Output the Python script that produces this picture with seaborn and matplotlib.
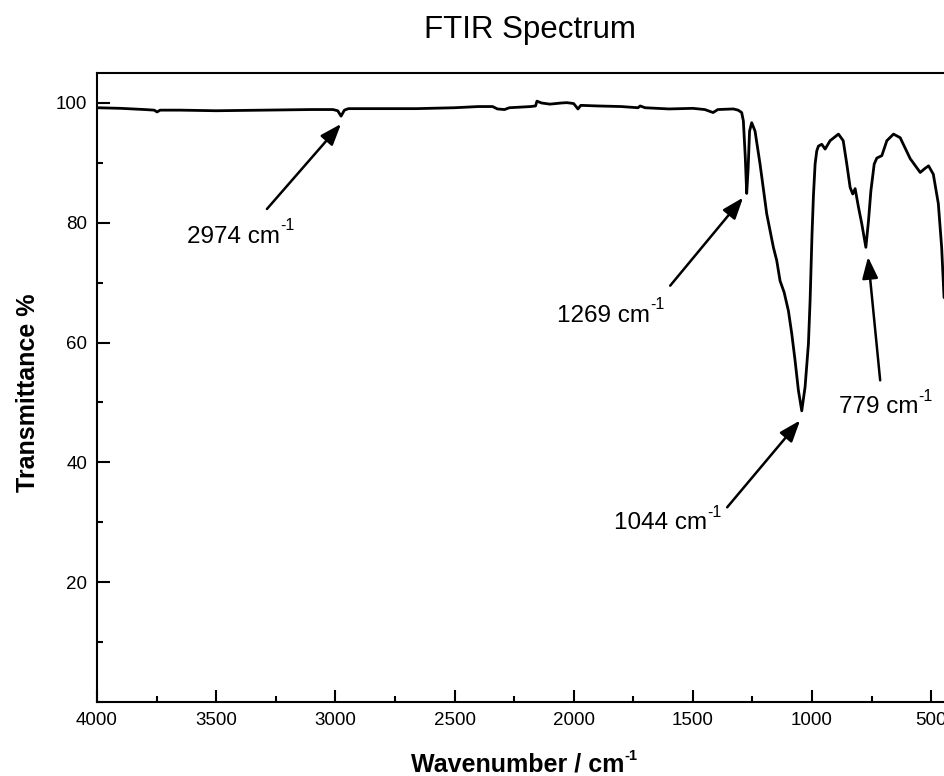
import matplotlib
matplotlib.use("Agg")
import matplotlib.pyplot as plt
from matplotlib.ticker import MultipleLocator
import seaborn as sns
import pandas as pd

# ---------------- data ----------------
wavenumber = [4000, 3900, 3800, 3760, 3748, 3735, 3650, 3500, 3300, 3100,
              3010, 2990, 2976, 2962, 2945, 2800, 2660, 2500, 2400, 2340,
              2320, 2290, 2270, 2180, 2160, 2154, 2135, 2100, 2050, 2028,
              2000, 1982, 1970, 1900, 1800, 1730, 1721, 1700, 1600, 1500,
              1450, 1415, 1395, 1330, 1310, 1295, 1288, 1280, 1274, 1268,
              1262, 1253, 1239, 1218, 1190, 1162, 1148, 1134, 1117, 1099,
              1085, 1071, 1057, 1043, 1029, 1015, 1008, 1000, 994, 987,
              980, 973, 959, 945, 924, 889, 869, 854, 840, 829,
              819, 805, 791, 774, 763, 753, 739, 728, 707, 686,
              658, 630, 588, 546, 525, 511, 491, 470, 456, 446]
transmittance = [99.2, 99.1, 98.9, 98.8, 98.5, 98.8, 98.8, 98.7, 98.8, 98.9,
                 98.9, 98.7, 97.8, 98.8, 99.05, 99.05, 99.05, 99.2, 99.4, 99.4,
                 99.0, 98.9, 99.2, 99.4, 99.5, 100.3, 100.0, 99.8, 100.0, 100.05,
                 99.9, 99.0, 99.6, 99.5, 99.4, 99.2, 99.5, 99.2, 99.0, 99.1,
                 98.9, 98.4, 98.9, 99.0, 98.8, 98.4, 97.0, 91.0, 84.9, 89.0,
                 95.3, 96.7, 95.3, 89.8, 81.5, 75.9, 73.7, 70.3, 68.4, 65.3,
                 61.5, 57.0, 52.0, 48.6, 52.6, 59.8, 67.0, 78.0, 84.5, 89.8,
                 92.0, 92.8, 93.1, 92.3, 93.7, 94.8, 93.7, 89.8, 85.9, 84.8,
                 85.7, 82.6, 79.8, 75.9, 80.3, 85.3, 89.8, 90.8, 91.2, 93.7,
                 94.8, 94.2, 90.7, 88.4, 89.1, 89.5, 88.1, 83.2, 75.9, 67.5]

peak_labels = ["2974", "1269", "1044", "779"]
arrow_heads = [(2976, 96.5), (1289, 84.2), (1050, 47.0), (765, 74.3)]
arrow_tails = [(3287, 82.3), (1595, 69.5), (1356, 32.5), (714, 53.7)]
label_pos = [(3622, 76.7), (2070, 63.5), (1830, 28.8), (886, 48.2)]

x_ticks = [4000, 3500, 3000, 2500, 2000, 1500, 1000, 500]
y_ticks = [20, 40, 60, 80, 100]

# ---------------- style ----------------
sns.set_theme(style="white")
plt.rcParams["font.family"] = ["Liberation Sans", "DejaVu Sans"]

W, H = 944, 776
fig = plt.figure(figsize=(W / 100, H / 100), dpi=100)
ax = fig.add_axes([97 / W, 1 - 702 / H, (955 - 97) / W, (702 - 73) / H])

df = pd.DataFrame({"Wavenumber": wavenumber, "Transmittance": transmittance})
sns.lineplot(data=df, x="Wavenumber", y="Transmittance", ax=ax,
             color="black", linewidth=2.0, sort=False, estimator=None)

ax.set_xlim(4000, 400)
ax.set_ylim(0, 105)
ax.set_xticks(x_ticks)
ax.set_yticks(y_ticks)
ax.xaxis.set_minor_locator(MultipleLocator(250))
ax.yaxis.set_minor_locator(MultipleLocator(10))
ax.tick_params(which="both", direction="in", colors="black", width=1.5,
               bottom=True, left=True, top=False, right=False)
ax.tick_params(which="major", length=9, labelsize=13.5, pad=7)
ax.tick_params(which="minor", length=4.5)
for sp in ax.spines.values():
    sp.set_linewidth(1.5)
    sp.set_color("black")
ax.set_xlabel("")
ax.set_ylabel("")

main_texts = []
for lab, head, tail, pos in zip(peak_labels, arrow_heads, arrow_tails, label_pos):
    ax.annotate("", xy=head, xytext=tail,
                arrowprops=dict(arrowstyle="-|>,head_length=0.65,head_width=0.24",
                                color="black", lw=1.8, mutation_scale=20,
                                shrinkA=0, shrinkB=0))
    t = ax.text(pos[0], pos[1], lab + " cm", fontsize=17.5,
                ha="left", va="baseline", color="black")
    main_texts.append((t, ax.transData.transform(pos)[1], 17.5, 11.5, "normal"))

fig.text(530 / W, 1 - 38 / H, "FTIR Spectrum", fontsize=22.5,
         ha="center", va="baseline", color="black")
xl = fig.text(518 / W, 1 - 772 / H, "Wavenumber / cm",
              fontsize=18, fontweight="bold", ha="center", va="baseline", color="black")
main_texts.append((xl, (1 - 772 / H) * H, 18, 10.5, "bold"))
fig.text(28 / W, 1 - 393 / H, "Transmittance %", fontsize=18,
         fontweight="bold", rotation=90, ha="center", va="center", color="black")

# superscript "-1" placed right after each "cm"
fig.canvas.draw()
renderer = fig.canvas.get_renderer()
for t, base_y, fs, sfs, weight in main_texts:
    bb = t.get_window_extent(renderer=renderer)
    x_px = bb.x1
    y_px = base_y + 0.5 * fs * 100 / 72
    fig.text(x_px / W, y_px / H, "-1", fontsize=sfs, fontweight=weight,
             ha="left", va="baseline", color="black")

fig.savefig("out.png", dpi=100)
